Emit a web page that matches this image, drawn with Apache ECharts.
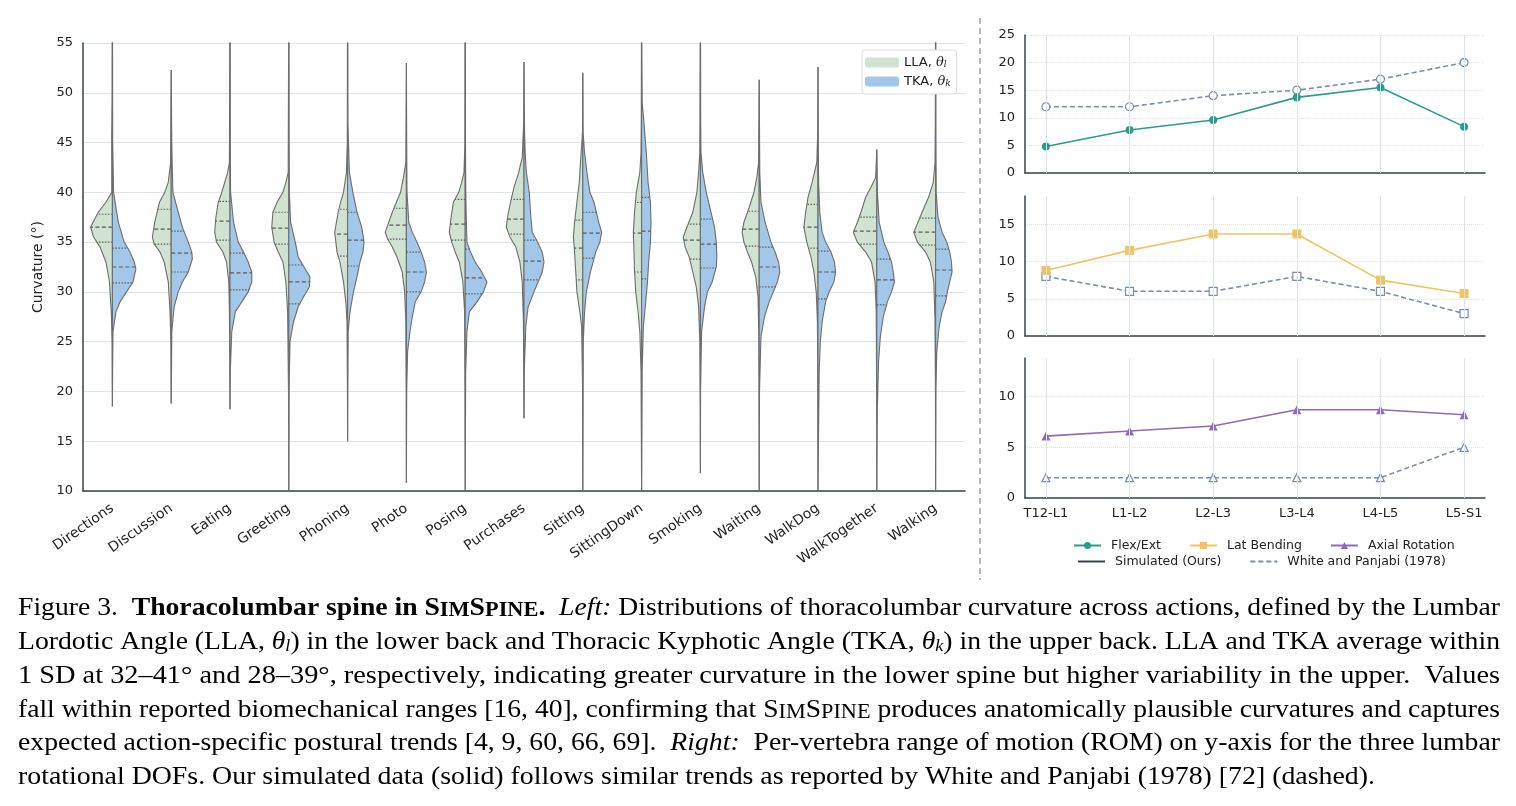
<!DOCTYPE html>
<html>
<head>
<meta charset="utf-8">
<title>Thoracolumbar spine in SimSpine</title>
<script src="https://cdn.jsdelivr.net/npm/echarts@6/dist/echarts.min.js"></script>
<style>
  html, body { margin: 0; padding: 0; background: #fff; }
  #main { width: 1516px; height: 806px; }
</style>
</head>
<body>
<div id="main"></div>
<script>
// ---- left: curvature distributions per action ----
var actions = ['Directions', 'Discussion', 'Eating', 'Greeting', 'Phoning', 'Photo', 'Posing',
  'Purchases', 'Sitting', 'SittingDown', 'Smoking', 'Waiting', 'WalkDog', 'WalkTogether', 'Walking'];

// half-violin outlines, [curvature, half width as share of the category band]
var llaShape = [
  [[18.5,0],[25,0.005],[28,0.02],[31,0.05],[33,0.11],[34.5,0.21],[35.5,0.32],[36.5,0.37],[37,0.33],[38,0.24],[39,0.11],[40,0.01],[45.5,0.012],[50,0.004],[55,0.003]],
  [[18.8,0],[25,0.005],[28,0.02],[31,0.05],[33,0.12],[34,0.19],[34.8,0.29],[35.5,0.32],[37,0.28],[38,0.24],[39,0.2],[40,0.11],[41,0.05],[43,0.01],[52.3,0]],
  [[18.2,0],[22,0.003],[28,0.01],[31,0.02],[33,0.06],[34,0.12],[35,0.23],[36,0.26],[37.5,0.24],[39,0.2],[40,0.14],[42,0.04],[43,0.01],[55,0.003]],
  [[10,0],[20,0.005],[28,0.02],[31,0.05],[33,0.1],[34,0.18],[35,0.25],[36.5,0.29],[38,0.27],[39,0.2],[40,0.1],[41,0.05],[42,0.01],[55,0.003]],
  [[15,0],[20,0.003],[27,0.01],[29,0.03],[31,0.07],[33,0.13],[34,0.18],[35,0.2],[36,0.22],[38,0.16],[39,0.12],[40,0.07],[42,0.02],[45,0.005],[55,0.003]],
  [[10.8,0],[20,0.003],[27,0.01],[30,0.03],[32,0.07],[33.5,0.16],[34.5,0.24],[35.3,0.32],[36,0.36],[37,0.3],[38,0.24],[39,0.17],[40,0.1],[41.5,0.05],[43,0.01],[53,0]],
  [[10,0],[20,0.003],[28,0.01],[31,0.04],[33,0.1],[34,0.17],[35,0.23],[36,0.27],[37.5,0.24],[39,0.2],[40,0.11],[41,0.06],[42,0.02],[45,0.005],[55,0.003]],
  [[17.3,0],[20,0.003],[27,0.01],[31,0.03],[33,0.07],[34.5,0.14],[35.5,0.24],[36.5,0.3],[37.5,0.28],[39,0.23],[40.5,0.17],[42,0.09],[43.5,0.03],[47,0.005],[53.1,0]],
  [[10,0],[20,0.003],[26.5,0.02],[28,0.05],[30,0.1],[32,0.12],[34,0.14],[35.5,0.16],[37,0.14],[39,0.1],[41,0.06],[43,0.04],[46,0.005],[52,0]],
  [[10,0],[22,0.01],[26,0.03],[28,0.06],[30,0.1],[32,0.12],[34,0.13],[36,0.14],[38,0.12],[40,0.09],[42,0.03],[44,0.01],[48,0.005],[55,0.003]],
  [[11.8,0],[18,0.003],[25,0.01],[28.5,0.03],[30.5,0.07],[32,0.13],[33.5,0.19],[34.5,0.26],[35.5,0.29],[36.5,0.23],[38,0.13],[40,0.06],[42,0.03],[44,0.01],[55,0.003]],
  [[10,0],[20,0.003],[26,0.008],[29.5,0.02],[31.5,0.06],[33,0.13],[34,0.2],[35,0.26],[36,0.29],[37,0.26],[38.5,0.17],[40,0.09],[41.5,0.04],[43,0.01],[51.3,0]],
  [[10,0],[20,0.003],[27,0.01],[30,0.03],[32,0.07],[33.5,0.12],[35,0.19],[36.5,0.24],[38,0.21],[39.5,0.17],[41,0.1],[43,0.02],[46,0.005],[52.6,0]],
  [[10,0],[20,0.003],[28,0.01],[31,0.03],[33,0.09],[34,0.19],[35,0.33],[36,0.4],[37,0.33],[38,0.27],[39.5,0.19],[40.5,0.1],[41.5,0.02],[44.3,0]],
  [[10,0],[20,0.003],[27,0.01],[31,0.03],[33,0.09],[34,0.17],[35,0.31],[36,0.37],[37,0.3],[38,0.23],[39.5,0.12],[41,0.04],[43,0.01],[47,0.005],[55,0.003]]
];
var tkaShape = [
  [[18.5,0],[22,0.004],[26,0.01],[28,0.06],[29,0.13],[30,0.24],[31,0.35],[32.3,0.4],[33,0.37],[34,0.3],[35,0.2],[37,0.1],[40,0.02],[45,0.005],[55,0.003]],
  [[18.8,0],[20,0.003],[26,0.01],[28.5,0.05],[30,0.12],[31,0.19],[32,0.29],[33.3,0.36],[34,0.35],[35,0.29],[36.5,0.19],[38,0.12],[40,0.03],[42,0.02],[45,0.01],[52.3,0]],
  [[18.2,0],[22,0.005],[26,0.03],[28,0.09],[29,0.2],[30,0.31],[31,0.37],[32,0.37],[33,0.31],[34,0.23],[35,0.14],[37,0.06],[40,0.01],[45,0.005],[55,0.003]],
  [[10,0],[20,0.005],[25,0.02],[27,0.08],[28.5,0.16],[29.5,0.25],[30.5,0.35],[31.5,0.36],[32.5,0.26],[33.5,0.16],[35,0.11],[37,0.03],[40,0.01],[45,0.005],[55,0.003]],
  [[15,0],[20,0.003],[26,0.01],[28,0.04],[30,0.1],[31.5,0.16],[33,0.21],[34,0.26],[35,0.28],[36.5,0.24],[38,0.16],[40,0.09],[42,0.03],[44,0.02],[47,0.005],[55,0.003]],
  [[10.8,0],[20,0.005],[24,0.02],[26,0.06],[27.5,0.1],[29,0.15],[30,0.25],[31,0.31],[32,0.34],[33,0.31],[34,0.25],[35,0.18],[36,0.1],[37,0.04],[40,0.01],[45,0.005],[53,0]],
  [[10,0],[22,0.008],[26,0.03],[28,0.07],[29,0.2],[30,0.31],[31,0.37],[32,0.28],[33,0.17],[34,0.09],[35,0.03],[37,0.02],[40,0.01],[45,0.005],[55,0.003]],
  [[17.3,0],[22,0.005],[26.5,0.03],[28.5,0.07],[30,0.17],[31,0.24],[32,0.31],[33,0.34],[34,0.31],[35,0.23],[36,0.14],[38,0.11],[40,0.09],[42,0.04],[44,0.02],[46,0.01],[53.1,0]],
  [[10,0],[25,0.008],[28,0.03],[30,0.06],[32,0.13],[34,0.22],[35,0.29],[36,0.32],[37,0.27],[39,0.19],[40,0.12],[42,0.07],[44,0.03],[46,0.005],[52,0]],
  [[10,0],[22,0.01],[26.5,0.03],[29,0.07],[31,0.1],[33,0.12],[35,0.15],[37,0.16],[39,0.15],[41,0.11],[44,0.08],[47,0.04],[49,0.01],[55,0.003]],
  [[11.8,0],[20,0.003],[26,0.02],[28.5,0.07],[30,0.12],[31,0.2],[32.5,0.27],[33.5,0.28],[35,0.27],[36.5,0.24],[38,0.18],[40,0.1],[42,0.04],[44,0.01],[47,0.005],[55,0.003]],
  [[10,0],[20,0.005],[25.5,0.03],[27.5,0.09],[29,0.17],[30,0.24],[31,0.31],[32,0.35],[33,0.33],[34,0.27],[35,0.2],[37,0.1],[39,0.03],[42,0.01],[51.3,0]],
  [[10,0],[22,0.02],[25,0.04],[27,0.07],[29,0.13],[30,0.19],[31,0.27],[32,0.3],[33,0.28],[34,0.22],[35,0.13],[36,0.07],[38,0.03],[41,0.01],[45,0.005],[52.6,0]],
  [[10,0],[18,0.008],[23,0.03],[25.5,0.06],[27.5,0.11],[29,0.18],[30,0.25],[31,0.3],[32,0.28],[33,0.25],[34,0.19],[35,0.12],[37,0.04],[40,0.01],[44.3,0]],
  [[10,0],[20,0.005],[24,0.02],[26.5,0.06],[28,0.11],[29,0.17],[30,0.2],[31,0.24],[32,0.28],[33,0.27],[34,0.24],[35,0.19],[36,0.11],[37.5,0.04],[40,0.01],[45,0.005],[55,0.003]]
];
// [q1, median, q3]
var llaQuart = [[35.0,36.5,37.8],[34.8,36.3,38.3],[35.2,37.1,39.1],[34.8,36.4,38.0],[33.6,35.8,38.3],
  [35.3,36.7,38.4],[35.2,36.8,39.3],[35.8,37.3,39.3],[31.2,34.4,37.2],[32.0,35.9,39.0],
  [33.3,35.2,36.8],[34.6,36.3,38.1],[34.4,36.5,38.8],[34.8,36.1,37.5],[34.7,36.0,37.4]];
var tkaQuart = [[30.9,32.5,34.4],[32.0,33.9,36.1],[30.2,31.9,33.9],[28.8,31.0,32.7],[32.6,35.2,38.0],
  [30.0,32.0,34.0],[29.8,31.4,34.3],[31.2,33.1,35.2],[33.4,35.9,38.0],[31.3,36.1,39.5],
  [32.4,34.8,37.3],[30.5,32.5,34.5],[29.3,32.0,34.1],[28.7,31.2,33.3],[29.6,32.2,34.3]];

// ---- right: per-vertebra range of motion ----
var segments = ['T12-L1', 'L1-L2', 'L2-L3', 'L3-L4', 'L4-L5', 'L5-S1'];
var flexSim = [4.8, 7.8, 9.6, 13.7, 15.5, 8.4];
var flexRef = [12, 12, 14, 15, 17, 20];
var latSim = [8.8, 11.5, 13.7, 13.7, 7.5, 5.7];
var latRef = [8, 6, 6, 8, 6, 3];
var axialSim = [6.1, 6.6, 7.1, 8.7, 8.7, 8.2];
var axialRef = [2, 2, 2, 2, 2, 5];

var FONT = 'DejaVu Sans';
var GREEN = '#cfe3d0';
var BLUE = '#a2c7e8';
var TEAL = '#2a9d8a';
var YELLOW = '#efc463';
var PURPLE = '#9069b8';
var REF = '#7c8ea4';
var AXIS = '#34434f';

function widthAt(prof, v) {
  for (var k = 1; k < prof.length; k++) {
    if (v <= prof[k][0]) {
      var a = prof[k - 1], b = prof[k];
      return a[1] + (b[1] - a[1]) * (v - a[0]) / (b[0] - a[0]);
    }
  }
  return 0;
}

// side = -1 draws to the left of the category centre, +1 to the right
function halfViolin(shapes, quarts, side, fill) {
  return function (params, api) {
    var i = api.value(0);
    var prof = shapes[i];
    var cx = api.coord([i, prof[0][0]])[0];
    var band = api.size([1, 0])[0];
    var pts = [[cx, api.coord([i, prof[0][0]])[1]]];
    prof.forEach(function (p) {
      pts.push([cx + side * p[1] * band, api.coord([i, p[0]])[1]]);
    });
    pts.push([cx, api.coord([i, prof[prof.length - 1][0]])[1]]);
    var children = [{
      type: 'polygon',
      shape: { points: pts },
      style: { fill: fill, stroke: '#6d6d6d', lineWidth: 1.1 }
    }];
    quarts[i].forEach(function (q, k) {
      var y = api.coord([i, q])[1];
      children.push({
        type: 'line',
        shape: { x1: cx, y1: y, x2: cx + side * widthAt(prof, q) * band, y2: y },
        style: { stroke: '#5b5b5b', lineWidth: 1.2, lineDash: k === 1 ? [4, 2.5] : [1.5, 1.5] }
      });
    });
    return { type: 'group', children: children };
  };
}

function pairs(arr) {
  return arr.map(function (v, i) { return [i, v]; });
}

function rightX(g, labels) {
  return {
    gridIndex: g, type: 'value', min: -0.25, max: 5.25, interval: 0.25,
    axisLine: { show: true, onZero: false, lineStyle: { color: AXIS, width: 1.5 } },
    axisTick: { show: false },
    splitLine: { show: false },
    axisLabel: {
      show: labels, margin: 9, fontFamily: FONT, fontSize: 13, color: '#222',
      formatter: function (v) {
        var r = Math.round(v);
        return Math.abs(v - r) < 1e-6 && segments[r] ? segments[r] : '';
      }
    }
  };
}

function rightY(g, max) {
  return {
    gridIndex: g, type: 'value', min: 0, max: max, interval: 5,
    axisLine: { show: true, onZero: false, lineStyle: { color: AXIS, width: 1.5 } },
    axisTick: { show: false },
    axisLabel: { fontFamily: FONT, fontSize: 13, color: '#222', margin: 10, showMaxLabel: max % 5 === 0 },
    splitLine: { showMaxLine: max % 5 === 0, lineStyle: { color: '#e2e2e2', type: 'dotted' } }
  };
}

function simLine(name, g, data, color, symbol, size) {
  return {
    name: name, type: 'line', xAxisIndex: g, yAxisIndex: g, data: pairs(data),
    symbol: symbol, symbolSize: size, z: 4,
    lineStyle: { color: color, width: 1.6 },
    itemStyle: { color: color }
  };
}

function refLine(name, g, data, symbol, size) {
  return {
    name: name, type: 'line', xAxisIndex: g, yAxisIndex: g, data: pairs(data),
    symbol: symbol, symbolSize: size, z: 3,
    lineStyle: { color: REF, width: 1.6, type: [5, 3] },
    itemStyle: { color: '#fff', borderColor: REF, borderWidth: 1.2 }
  };
}

// vertical grid lines at each segment
function segGrid(g) {
  return {
    type: 'line', xAxisIndex: g, yAxisIndex: g, data: [], z: 1, silent: true,
    markLine: {
      silent: true, symbol: ['none', 'none'], label: { show: false },
      lineStyle: { color: '#dbe3ec', width: 1, type: 'solid' },
      data: segments.map(function (s, i) { return { xAxis: i }; })
    }
  };
}

// ---- caption ----
var capStyles = {
  n: { fontSize: 26 },
  b: { fontSize: 26, fontWeight: 'bold' },
  bs: { fontSize: 21, fontWeight: 'bold', verticalAlign: 'bottom' },
  s: { fontSize: 21, verticalAlign: 'bottom' },
  i: { fontSize: 26, fontStyle: 'italic' },
  sub: { fontSize: 17, fontStyle: 'italic', verticalAlign: 'bottom' },
  c: { fontSize: 26, color: '#2f7ccc' }
};
var capLines = [
  [['Figure 3.  ', 'n'], ['Thoracolumbar spine in S', 'b'], ['IM', 'bs'], ['S', 'b'], ['PINE', 'bs'], ['.', 'b'], ['  ', 'n'], ['Left:', 'i'],
    [' Distributions of thoracolumbar curvature across actions, defined by the Lumbar', 'n']],
  [['Lordotic Angle (LLA, ', 'n'], ['θ', 'i'], ['l', 'sub'], [') in the lower back and Thoracic Kyphotic Angle (TKA, ', 'n'], ['θ', 'i'], ['k', 'sub'],
    [') in the upper back. LLA and TKA average within', 'n']],
  [['1 SD at 32–41° and 28–39°, respectively, indicating greater curvature in the lower spine but higher variability in the upper.  Values', 'n']],
  [['fall within reported biomechanical ranges [', 'n'], ['16', 'c'], [', ', 'n'], ['40', 'c'], ['], confirming that S', 'n'], ['IM', 's'], ['S', 'n'], ['PINE', 's'],
    [' produces anatomically plausible curvatures and captures', 'n']],
  [['expected action-specific postural trends [', 'n'], ['4', 'c'], [', ', 'n'], ['9', 'c'], [', ', 'n'], ['60', 'c'], [', ', 'n'], ['66', 'c'], [', ', 'n'], ['69', 'c'],
    ['].  ', 'n'], ['Right:', 'i'], ['  Per-vertebra range of motion (ROM) on y-axis for the three lumbar', 'n']],
  [['rotational DOFs. Our simulated data (solid) follows similar trends as reported by White and Panjabi (1978) [', 'n'], ['72', 'c'], ['] (dashed).', 'n']]
];
var capY = [608, 642, 676, 710, 743, 777];
var capRight = [1500, 1500, 1500, 1500, 1500, 1375];

var rich = {};
Object.keys(capStyles).forEach(function (k) {
  var s = capStyles[k];
  rich[k] = {
    fontFamily: 'Liberation Serif', fontSize: s.fontSize, fontWeight: s.fontWeight || 'normal',
    fontStyle: s.fontStyle || 'normal', color: s.color || '#111', verticalAlign: s.verticalAlign || 'middle',
    lineHeight: 26
  };
});
var ctx = document.createElement('canvas').getContext('2d');
function segWidth(txt, k) {
  var s = capStyles[k];
  ctx.font = (s.fontStyle || 'normal') + ' ' + (s.fontWeight || 'normal') + ' ' + s.fontSize + 'px "Liberation Serif"';
  return ctx.measureText(txt).width;
}
var caption = capLines.map(function (line, n) {
  var w = 0;
  var txt = line.map(function (p) {
    w += segWidth(p[0], p[1]);
    return '{' + p[1] + '|' + p[0] + '}';
  }).join('');
  return {
    type: 'text', x: 18, y: capY[n], scaleX: (capRight[n] - 18) / w, silent: true,
    style: { text: txt, rich: rich, verticalAlign: 'middle', align: 'left' }
  };
});

var chart = echarts.init(document.getElementById('main'));
chart.setOption({
  backgroundColor: '#fff',
  animation: false,
  grid: [
    { left: 83, top: 43, width: 882, height: 448 },
    { left: 1025, top: 35, width: 460, height: 138 },
    { left: 1025, top: 196, width: 460, height: 140 },
    { left: 1025, top: 358, width: 460, height: 140 }
  ],
  xAxis: [
    {
      gridIndex: 0, type: 'category', data: actions, boundaryGap: true,
      axisLine: { lineStyle: { color: AXIS, width: 1.5 } },
      axisTick: { show: false },
      axisLabel: { rotate: 35, interval: 0, margin: 16, fontFamily: FONT, fontSize: 14, color: '#222' }
    },
    rightX(1, false), rightX(2, false), rightX(3, true)
  ],
  yAxis: [
    {
      gridIndex: 0, type: 'value', min: 10, max: 55, interval: 5,
      name: 'Curvature (°)', nameLocation: 'middle', nameGap: 38,
      nameTextStyle: { fontFamily: FONT, fontSize: 14, color: '#222' },
      axisLine: { show: true, lineStyle: { color: AXIS, width: 1.5 } },
      axisTick: { show: false },
      axisLabel: { fontFamily: FONT, fontSize: 13, color: '#222', margin: 10 },
      splitLine: { lineStyle: { color: '#dde4f0', width: 1 } }
    },
    rightY(1, 25), rightY(2, 18.8), rightY(3, 13.8)
  ],
  legend: [
    {
      data: ['LLA', 'TKA'], orient: 'vertical', left: 862, top: 50,
      padding: [6, 6, 6, 3], itemWidth: 34, itemHeight: 10, itemGap: 6, icon: 'roundRect',
      backgroundColor: '#fff', borderColor: '#dadada', borderWidth: 1, borderRadius: 3,
      formatter: function (n) {
        return n === 'LLA' ? 'LLA, {th|θ}{sb|l}' : 'TKA, {th|θ}{sb|k}';
      },
      textStyle: {
        fontFamily: FONT, fontSize: 13, color: '#222',
        rich: {
          th: { fontFamily: 'DejaVu Serif', fontStyle: 'italic', fontSize: 13, color: '#222' },
          sb: { fontFamily: 'DejaVu Serif', fontStyle: 'italic', fontSize: 9, color: '#222', verticalAlign: 'bottom' }
        }
      }
    },
    {
      data: ['Flex/Ext', 'Lat Bending', 'Axial Rotation'], left: 1068, top: 534,
      itemWidth: 27, itemHeight: 9, itemGap: 28,
      textStyle: { fontFamily: FONT, fontSize: 12.5, color: '#222', padding: [0, 0, 0, 5] }
    },
    {
      data: [
        { name: 'Simulated (Ours)', itemStyle: { opacity: 0 } },
        { name: 'White and Panjabi (1978)', itemStyle: { opacity: 0 } }
      ],
      left: 1072, top: 550,
      itemWidth: 27, itemHeight: 9, itemGap: 28,
      textStyle: { fontFamily: FONT, fontSize: 12.5, color: '#222', padding: [0, 0, 0, 5] }
    }
  ],
  series: [
    {
      name: 'LLA', type: 'custom', xAxisIndex: 0, yAxisIndex: 0,
      data: actions.map(function (a, i) { return [i, llaQuart[i][1]]; }),
      encode: { x: 0, y: 1 }, itemStyle: { color: GREEN },
      renderItem: halfViolin(llaShape, llaQuart, -1, GREEN)
    },
    {
      name: 'TKA', type: 'custom', xAxisIndex: 0, yAxisIndex: 0,
      data: actions.map(function (a, i) { return [i, tkaQuart[i][1]]; }),
      encode: { x: 0, y: 1 }, itemStyle: { color: BLUE },
      renderItem: halfViolin(tkaShape, tkaQuart, 1, BLUE)
    },
    segGrid(1), segGrid(2), segGrid(3),
    refLine('Flex/Ext (White and Panjabi)', 1, flexRef, 'circle', 8),
    simLine('Flex/Ext', 1, flexSim, TEAL, 'circle', 8),
    refLine('Lat Bending (White and Panjabi)', 2, latRef, 'rect', 8),
    simLine('Lat Bending', 2, latSim, YELLOW, 'rect', 9),
    refLine('Axial Rotation (White and Panjabi)', 3, axialRef, 'triangle', 8),
    simLine('Axial Rotation', 3, axialSim, PURPLE, 'triangle', 9),
    {
      name: 'Simulated (Ours)', type: 'line', xAxisIndex: 3, yAxisIndex: 3, data: [],
      symbol: 'none', lineStyle: { color: AXIS, width: 1.6 }, itemStyle: { color: AXIS }
    },
    {
      name: 'White and Panjabi (1978)', type: 'line', xAxisIndex: 3, yAxisIndex: 3, data: [],
      symbol: 'none', lineStyle: { color: REF, width: 1.6, type: [5, 3] }, itemStyle: { color: REF }
    }
  ],
  graphic: [
    {
      type: 'line', silent: true,
      shape: { x1: 980, y1: 18, x2: 980, y2: 580 },
      style: { stroke: '#8c8c8c', lineWidth: 1.2, lineDash: [6, 4] }
    }
  ].concat(caption)
});
</script>
</body>
</html>
